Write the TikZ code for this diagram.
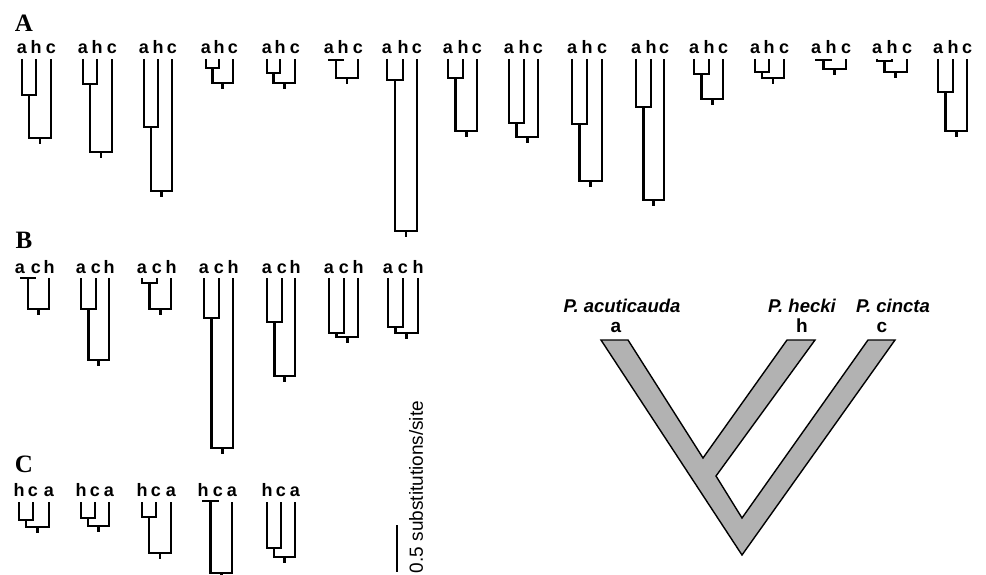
\documentclass[tikz,border=0pt]{standalone}
\usepackage{fontspec}
\setmainfont{Liberation Serif}
\setsansfont{Liberation Sans}
\usepackage{tikz}

\tikzset{
	branch/.style={line width=2.6pt, line join=miter},
	tip/.style={anchor=base, inner sep=0pt, font=\sffamily\bfseries\fontsize{18}{18}\selectfont},
	panel/.style={anchor=base, inner sep=0pt, font=\bfseries\fontsize{25}{25}\selectfont},
	taxon/.style={anchor=base, inner sep=0pt, font=\sffamily\bfseries\itshape\fontsize{18.5}{18.5}\selectfont},
	scalebar/.style={line width=2.8pt}
}

\begin{document}
\begin{tikzpicture}[x=1pt, y=-1pt]
	\useasboundingbox (0, 0) rectangle (986, 575);
	
	% A: order a h c
	\node [panel] (panA) at (24, 32) {A};
	\foreach \n/\xa/\xb/\xc/\yj/\yr in {1/22/36/51/95/138, 2/83/97/112/84/152,
		3/144/158/172/127/191, 4/206/219/233/68/83, 5/267/280/295/73/83,
		6/329/343/358/60/78, 7/387/403/417/80/231, 8/448/463/477/78/131,
		9/509/524/538/123/137, 10/572/587/602/124/181, 11/636/651/664/107/200,
		12/694/709/723/74/99, 13/755/769/784/72/78, 14/816/831/846/60/69,
		15/877/892/907/61/72, 16/938/953/967/92/131} {
		\node [tip] (A\n-a) at (\xa, 54) {a};
		\node [tip] (A\n-h) at (\xb, 54) {h};
		\node [tip] (A\n-c) at (\xc, 54) {c};
		\draw [branch] (\xa, 59) -- (\xa, \yj) -- (\xb, \yj) -- (\xb, 59);
		\draw [branch] ({(\xa + \xb) / 2}, \yj) -- ({(\xa + \xb) / 2}, \yr) -- (\xc, \yr) -- (\xc, 59);
		\draw [branch] ({((\xa + \xb) / 2 + \xc) / 2}, \yr) -- ++(0, 6);
	}
	
	% B: order a c h
	\node [panel] (panB) at (24, 248) {B};
	\foreach \n/\xa/\xb/\xc/\yj/\yr in {1/20/36/49/278/309, 2/81/96/109/309/360,
		3/142/157/171/283/309, 4/204/219/233/318/448, 5/267/282/295/322/376,
		6/329/344/358/333/337, 7/388/403/418/327/333} {
		\node [tip] (B\n-a) at (\xa, 273) {a};
		\node [tip] (B\n-c) at (\xb, 273) {c};
		\node [tip] (B\n-h) at (\xc, 273) {h};
		\draw [branch] (\xa, 278) -- (\xa, \yj) -- (\xb, \yj) -- (\xb, 278);
		\draw [branch] ({(\xa + \xb) / 2}, \yj) -- ({(\xa + \xb) / 2}, \yr) -- (\xc, \yr) -- (\xc, 278);
		\draw [branch] ({((\xa + \xb) / 2 + \xc) / 2}, \yr) -- ++(0, 6);
	}
	
	% C: order h c a
	\node [panel] (panC) at (24, 472) {C};
	\foreach \n/\xa/\xb/\xc/\yj/\yr in {1/19/33/49/520/527, 2/81/95/109/518/526,
		3/142/156/171/517/553, 4/203/218/232/501/573, 5/267/281/295/548/557} {
		\node [tip] (C\n-h) at (\xa, 496) {h};
		\node [tip] (C\n-c) at (\xb, 496) {c};
		\node [tip] (C\n-a) at (\xc, 496) {a};
		\draw [branch] (\xa, 502) -- (\xa, \yj) -- (\xb, \yj) -- (\xb, 502);
		\draw [branch] ({(\xa + \xb) / 2}, \yj) -- ({(\xa + \xb) / 2}, \yr) -- (\xc, \yr) -- (\xc, 502);
		\draw [branch] ({((\xa + \xb) / 2 + \xc) / 2}, \yr) -- ++(0, 6);
	}
	
	% scale
	\coordinate (bartop) at (397, 525);
	\coordinate (barbot) at (397, 572);
	\draw [scalebar] (bartop) -- (barbot);
	\node [rotate=90, inner sep=0pt, font=\sffamily\fontsize{19}{19}\selectfont] (barlab) at (416, 487) {0.5 substitutions/site};
	
	% species tree
	\filldraw [fill=black!30, line width=1.4pt, line join=miter]
		(601, 340) -- (742, 555) -- (895, 340) -- (868, 340) -- (742, 518) -- (716, 476)
		-- (815, 340) -- (787, 340) -- (703, 458) -- (628, 340) -- cycle;
	\node [taxon] (acu) at (622, 312) {P. acuticauda};
	\node [taxon] (hec) at (802, 312) {P. hecki};
	\node [taxon] (cin) at (893, 312) {P. cincta};
	\node [tip, font=\sffamily\bfseries\fontsize{19}{19}\selectfont] (sa) at (616, 332) {a};
	\node [tip, font=\sffamily\bfseries\fontsize{19}{19}\selectfont] (sh) at (802, 332) {h};
	\node [tip, font=\sffamily\bfseries\fontsize{19}{19}\selectfont] (sc) at (882, 332) {c};
\end{tikzpicture}
\end{document}
